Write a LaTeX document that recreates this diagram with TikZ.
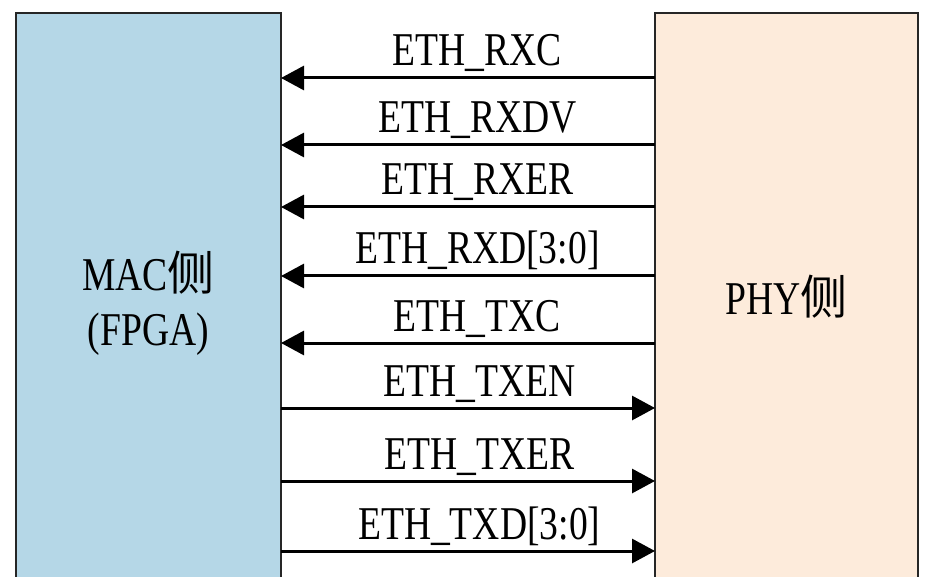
\documentclass[tikz,border=0pt]{standalone}
\usepackage{fontspec}
\setmainfont{Liberation Serif}[FakeStretch=0.8]
\newfontfamily\cjk{Noto Sans CJK SC}
\usetikzlibrary{arrows.meta}
\definecolor{macblue}{RGB}{181,215,231}
\definecolor{phypeach}{RGB}{253,235,219}
\begin{document}
\begin{tikzpicture}[x=1pt,y=-1pt,
    side/.style={draw=black!85,line width=2.5pt,minimum width=265pt,minimum height=640pt,
        anchor=north west,inner sep=0pt,outer sep=0pt},
    sig/.style={line width=3pt,-{Triangle[length=23pt,width=24pt]}},
    siglab/.style={anchor=base,yshift=12pt,font=\fontsize{47}{55}\selectfont},
    sidelab/.style={align=center,anchor=base,font=\fontsize{47}{55}\selectfont}]
                \useasboundingbox (0,0) rectangle (945,577);
                \clip (0,0) rectangle (945,577);
                %% MAC and PHY
                \node[side,fill=macblue] (mac) at (16,13) {};
                \node[side,fill=phypeach,minimum width=263pt] (phy) at (655,13) {};
                \node[sidelab] (maclab) at (148.5,345) {MAC{\cjk 侧}\\(FPGA)};
                \node[sidelab] (phylab) at (786.5,315) {PHY{\cjk 侧}};
                %% receive
                \foreach \dy/\lab in {65/ETH\_RXC,132/ETH\_RXDV,194/ETH\_RXER,263/ETH\_RXD[3:0],330/ETH\_TXC}
                    \draw[sig] ([yshift=-\dy pt]phy.north west) -- ([yshift=-\dy pt]mac.north east)
                        node[siglab,pos=0.475] {\lab};
                %% transmit
                \foreach \dy/\lab in {395/ETH\_TXEN,468/ETH\_TXER,538/ETH\_TXD[3:0]}
                    \draw[sig] ([yshift=-\dy pt]mac.north east) -- ([yshift=-\dy pt]phy.north west)
                        node[siglab,pos=0.53] {\lab};
            \end{tikzpicture}
\end{document}
